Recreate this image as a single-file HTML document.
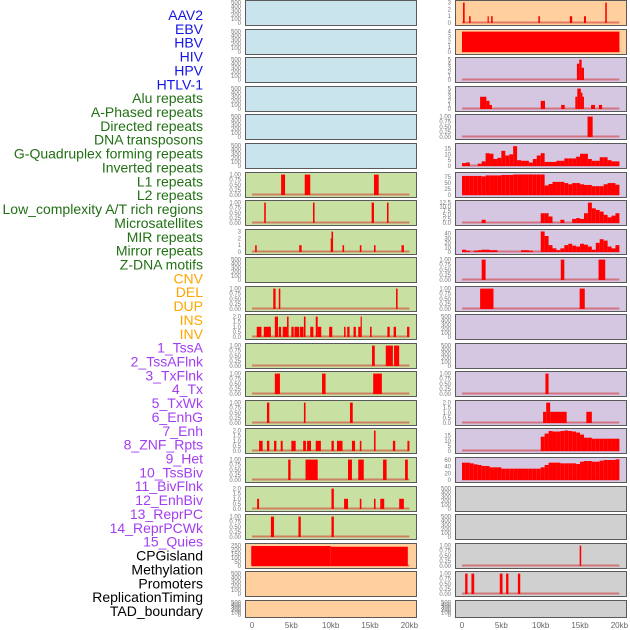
<!DOCTYPE html>
<html><head><meta charset="utf-8"><style>
body{margin:0;background:#fff;width:630px;height:630px;overflow:hidden}
svg{display:block}
</style></head><body>
<svg id="chart" width="630" height="630" xmlns="http://www.w3.org/2000/svg"></svg>
<script>
// ---------- data ----------
const trackLabels = ["AAV2","EBV","HBV","HIV","HPV","HTLV-1","Alu repeats","A-Phased repeats","Directed repeats","DNA transposons","G-Quadruplex forming repeats","Inverted repeats","L1 repeats","L2 repeats","Low_complexity A/T rich regions","Microsatellites","MIR repeats","Mirror repeats","Z-DNA motifs","CNV","DEL","DUP","INS","INV","1_TssA","2_TssAFlnk","3_TxFlnk","4_Tx","5_TxWk","6_EnhG","7_Enh","8_ZNF_Rpts","9_Het","10_TssBiv","11_BivFlnk","12_EnhBiv","13_ReprPC","14_ReprPCWk","15_Quies","CPGisland","Methylation","Promoters","ReplicationTiming","TAD_boundary"];
const xTickLabels = ["0","5kb","10kb","15kb","20kb"];
const xTickValues = [0,5,10,15,20];
const emptyTicks = [0,100,200,300,400,500];
const unitTicks = [0,0.25,0.5,0.75,1];
const twoTicks = [0,0.5,1,1.5,2];
// left column bars [startKb, endKb, value]
const L7 = [[3.7,4.2,1],[6.7,7.4,1],[15.5,16.1,1]];
const L8 = [[1.55,1.75,1],[7.75,7.95,1],[15.2,15.5,1],[17.15,17.35,1]];
const L9 = [[0.4,0.6,1],[6.0,6.3,1],[10.0,10.1,2],[10.1,10.3,3],[11.5,11.7,1],[13.7,13.9,1],[15.5,15.7,1],[19.0,19.3,1]];
const L11 = [[2.7,3.0,1],[3.4,3.6,1],[18.3,18.5,1]];
const L12 = [[0.6,1.2,1],[1.5,2.4,1],[2.9,3.3,2],[3.4,3.7,1],[3.9,4.45,1],[4.45,4.65,2],[5.0,5.3,1],[5.4,6.0,1],[6.1,6.55,1],[6.6,6.8,2],[7.4,7.8,1],[8.1,8.35,2],[8.35,8.8,1],[9.8,10.2,1],[11.7,11.9,1],[12.1,12.4,1],[12.9,13.2,1],[13.5,13.8,1],[13.8,13.95,2],[15.0,15.2,1],[17.2,17.5,1],[18.0,18.3,1],[19.7,20.0,1]];
const L13 = [[15.25,15.6,1],[17.0,17.9,1],[18.05,18.7,1]];
const L14 = [[2.9,3.55,1],[8.9,9.35,1],[15.4,16.5,1]];
const L15 = [[1.9,2.2,1],[6.6,6.8,1],[12.45,12.8,1]];
const L16 = [[0.9,1.35,1],[1.9,2.2,1],[2.8,3.1,1],[3.65,3.9,1],[5.0,5.55,1],[6.5,6.85,1],[7.0,7.5,1],[8.1,8.75,1],[10.1,10.4,1],[10.8,11.5,1],[12.7,13.1,1],[13.7,13.9,1],[15.5,15.7,2],[17.9,18.2,1],[19.75,20.0,1]];
const L17 = [[4.6,4.9,1],[6.8,8.35,1],[12.2,12.7,1],[13.5,14.2,1],[16.65,17.1,1],[19.45,19.8,1]];
const L18 = [[0.65,0.9,1],[10.1,10.4,2],[11.7,12.2,1],[13.7,13.9,1],[15.5,15.7,1],[16.3,16.8,1],[18.7,19.3,1]];
const L19 = [[2.4,2.8,1],[5.9,6.2,1],[10.1,10.4,1]];
const L20 = [[-0.1,10.0,245],[10.0,19.8,236]];
// right column
const R1 = [[0.13,0.34,3],[0.9,1.1,1],[3.25,3.4,1],[3.7,3.9,1],[9.7,9.9,1],[13.7,14.0,1],[15.5,15.75,1],[18.2,18.4,3]];
const R2 = [[0,20,4]];
const R3 = [[14.6,14.9,4],[14.9,15.2,5],[15.2,15.5,3]];
const R4 = [[2.3,3.1,3],[3.1,3.5,2],[3.5,3.8,1],[10.0,10.55,2],[12.6,13.05,1],[14.4,14.65,3],[14.65,15.1,5],[15.1,15.3,4],[15.3,15.5,3],[16.4,16.9,1],[17.4,17.8,1]];
const R5 = [[15.95,16.6,1]];
const R6bins = [2.5,3,0,0,2,4,11,10.5,6,7,13,9,10,17,5,4.5,4.5,3,6,9,11,3.5,3.5,3.5,4.5,4.5,6.5,6.5,6.5,8,10.5,10.5,6,4.5,4.5,7.5,7.5,5,4,4];
const R7bins = [80,80,80,80,80,78,82,82,82,82,84,84,84,86,86,86,86,86,86,86,86,40,46,55,55,55,50,45,50,50,45,42,42,37,37,37,45,50,50,43];
const R8bins = [0,0,0,0,0,2,0,0,0,0,0,0,0,0,0,0,0,0,0,0,6,6,4,0,0,2,0,0,2.5,3,2.5,6,12.5,9,8,7,5,3.5,4.5,6];
const R9bins = [5,3,0,3,4,5,5,4,4,0,0,0,0,0,0,4,4,3,0,0,45,35,15,8,4,8,15,18,14,12,18,16,12,5,20,28,25,12,8,15];
const R10 = [[2.5,3.0,1],[12.55,13.0,1],[17.35,18.2,1]];
const R11 = [[2.3,4.0,1],[14.95,15.6,1]];
const R14 = [[10.6,11.0,1]];
const R15 = [[10.3,10.7,1.1],[10.7,11.2,2],[11.2,13.3,1.1],[15.8,16.5,1.1]];
const R16bins = [0,0,0,0,0,0,0,0,0,0,0,0,0,0,0,0,0,0,0,0,14,17,19.5,19,19,19.5,20,19.5,19,18,16,13,13,12,12,12,12,12,12,12];
const R17bins = [52,52,50,47,45,42,42,38,38,38,34,34,34,34,34,34,34,34,34,34,38,45,52,52,52,50,50,50,50,48,55,57,57,55,55,58,60,60,60,62];
const R20 = [[14.95,15.15,1]];
const R21 = [[0.4,0.7,1],[1.2,1.55,1],[4.8,5.15,1],[5.6,5.9,1],[7.1,7.4,1]];

// ---------- layout ----------
const BLUE="#c9e4ec",GREEN="#c8e0a2",PEACH="#ffd09d",LAV="#d5c6e2",GRAY="#d0d0d0";
const tops=[0,29,57,86,114,143,172,200,229,257,286,314,343,371,400,428,457,486,514,543,571,600];
function binsToBars(b){return b.map((v,i)=>[i*0.5,i*0.5+0.5,v]);}
const left=[
 [BLUE,emptyTicks,null],[BLUE,emptyTicks,null],[BLUE,emptyTicks,null],[BLUE,emptyTicks,null],[BLUE,emptyTicks,null],[BLUE,emptyTicks,null],
 [GREEN,unitTicks,L7],[GREEN,unitTicks,L8],[GREEN,[0,1,2,3],L9],[GREEN,emptyTicks,null],[GREEN,unitTicks,L11],[GREEN,twoTicks,L12],
 [GREEN,unitTicks,L13],[GREEN,unitTicks,L14],[GREEN,unitTicks,L15],[GREEN,twoTicks,L16],[GREEN,unitTicks,L17],[GREEN,twoTicks,L18],[GREEN,unitTicks,L19],
 [PEACH,[0,50,100,150,200,250],L20],[PEACH,emptyTicks,null],[PEACH,emptyTicks,null]];
const right=[
 [PEACH,[0,1,2,3],R1],[PEACH,[0,1,2,3,4],R2],[LAV,[0,1,2,3,4,5],R3],[LAV,[0,1,2,3,4,5],R4],[LAV,unitTicks,R5],
 [LAV,[0,5,10,15],binsToBars(R6bins),18],[LAV,[0,25,50,75],binsToBars(R7bins),88],[LAV,[0,2.5,5,7.5,10,12.5],binsToBars(R8bins)],[LAV,[0,10,20,30,40],binsToBars(R9bins),46],
 [LAV,unitTicks,R10],[LAV,unitTicks,R11],[LAV,emptyTicks,null],[LAV,emptyTicks,null],[LAV,unitTicks,R14],[LAV,twoTicks,R15],
 [LAV,[0,5,10,15],binsToBars(R16bins),20.5],[LAV,[0,20,40,60],binsToBars(R17bins),63],
 [GRAY,emptyTicks,null],[GRAY,emptyTicks,null],[GRAY,unitTicks,R20],[GRAY,unitTicks,R21],[GRAY,emptyTicks,null]];

const svg=document.getElementById('chart');
const NS="http://www.w3.org/2000/svg";
function mk(tag,attrs,parent){const e=document.createElementNS(NS,tag);for(const k in attrs)e.setAttribute(k,attrs[k]);(parent||svg).appendChild(e);return e;}

// labels
const labelColors=i=>i<6?"#1515e6":i<19?"#217014":i<24?"#ffa500":i<39?"#a23ef0":"#000";
trackLabels.forEach((t,i)=>{
  const e=mk('text',{x:203,y:20+i*13.86,'text-anchor':'end','font-family':'Liberation Sans, sans-serif','font-size':'14',fill:labelColors(i)});
  e.textContent=t;
  
  
});

function drawColumn(col,px,x0,colName){
  const xs=kb=>x0+kb*7.87;
  col.forEach((p,r)=>{
    const [bg,ticks,bars,ymaxOverride]=p;
    const top=tops[r], h=(r===21)?17:25;
    const g=mk('g',{});
    
    
    const bgRect=mk('rect',{x:px+0.5,y:top+0.5,width:171,height:h,fill:bg,stroke:'#5a5a5a','stroke-width':1},g);
    
    
    const ymax=ymaxOverride||ticks[ticks.length-1]*1.03;
    const yb=top+h-2, yt=top+2;
    const ys=v=>yb-(v/ymax)*(yb-yt);
    ticks.forEach(tv=>{
      const lbl=(ticks===unitTicks)?tv.toFixed(2):(ticks===twoTicks||ticks[1]===2.5)?tv.toFixed(1):String(tv);
      const t=mk('text',{x:px-4,y:ys(tv)+2,'text-anchor':'end','font-family':'Liberation Sans, sans-serif','font-size':'6',fill:'#777'},g);
      t.textContent=lbl;
      
      
    });
    if(bars){
      const bl=mk('line',{x1:xs(0),x2:xs(20),y1:ys(0)-0.5,y2:ys(0)-0.5,stroke:'rgba(210,50,50,0.55)','stroke-width':2},g);
      
      
      bars.forEach(b=>{
        if(b[2]<=0)return;
        const x1=xs(b[0]),x2=xs(b[1]);
        const rc=mk('rect',{x:x1,y:ys(b[2]),width:Math.max(1.2,x2-x1),height:ys(0)-ys(b[2]),fill:'#ff0000'},g);
        
        
      });
    }
  });
  xTickValues.forEach((v,i)=>{
    const t=mk('text',{x:xs(v),y:628,'text-anchor':'middle','font-family':'Liberation Sans, sans-serif','font-size':'8',fill:'#666'});
    t.textContent=xTickLabels[i];
    
    
  });
}
drawColumn(left,245,252,'left');
drawColumn(right,455,462,'right');
</script>
</body></html>
